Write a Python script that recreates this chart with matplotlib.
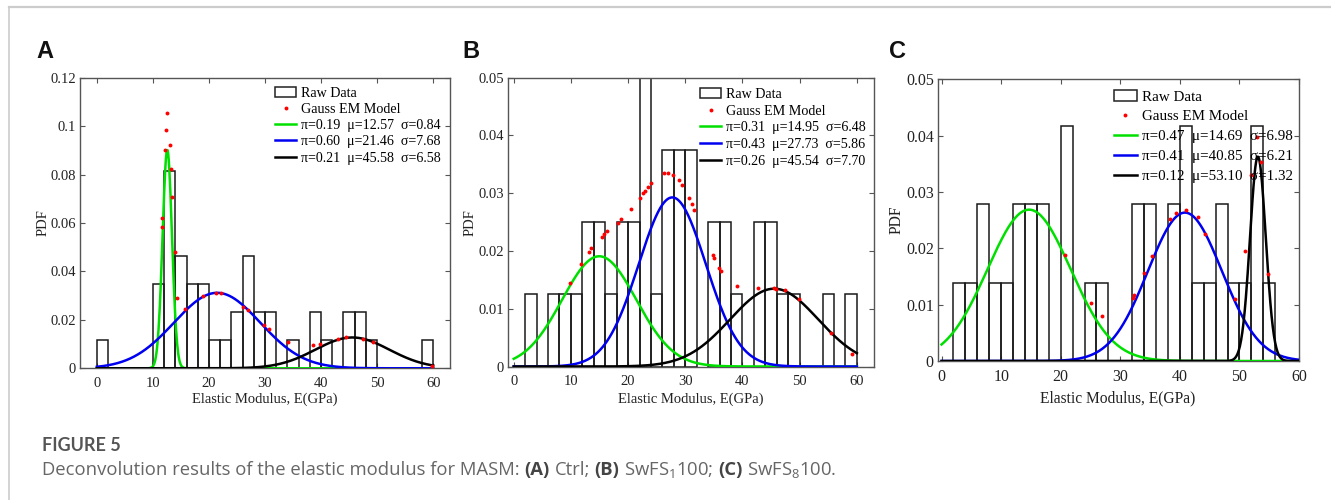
import numpy as np
import matplotlib
matplotlib.use('Agg')
import matplotlib.pyplot as plt
from matplotlib.patches import Rectangle
from matplotlib.lines import Line2D
from matplotlib.font_manager import FontProperties

plt.rcParams['mathtext.fontset'] = 'custom'
plt.rcParams['mathtext.rm'] = 'Open Sans'
plt.rcParams['mathtext.it'] = 'Open Sans:italic'
plt.rcParams['mathtext.bf'] = 'Open Sans:bold'
plt.rcParams['font.family'] = ['Liberation Serif', 'DejaVu Serif']

# ---------------- data ----------------
bin_width = 2
x_ticks = [0, 10, 20, 30, 40, 50, 60]

# Panel A (Ctrl)
A_bin_left = [0, 10, 12, 14, 16, 18, 20, 22, 24, 26, 28, 30, 34, 38, 40, 44, 46, 48, 58]
A_pdf = [0.0116, 0.0349, 0.0814, 0.0465, 0.0349, 0.0349, 0.0116, 0.0116, 0.0233, 0.0465,
         0.0233, 0.0233, 0.0116, 0.0233, 0.0116, 0.0233, 0.0233, 0.0116, 0.0116]
A_pi = [0.19, 0.60, 0.21]
A_mu = [12.57, 21.46, 45.58]
A_sigma = [0.84, 7.68, 6.58]
A_em_x = [12.50, 12.26, 13.10, 12.08, 13.27, 13.45, 11.60, 11.55, 13.87, 14.35, 15.80,
          18.90, 21.30, 22.20, 26.10, 26.96, 29.80, 30.70, 34.10, 38.60, 39.85, 43.00,
          44.50, 47.45, 49.20, 59.80]
A_em_y = [0.1055, 0.0985, 0.0923, 0.0903, 0.0825, 0.0708, 0.0620, 0.0583, 0.0480, 0.0292,
          0.0244, 0.0297, 0.0313, 0.0313, 0.0255, 0.0241, 0.0179, 0.0161, 0.0107, 0.0095,
          0.0101, 0.0121, 0.0128, 0.0122, 0.0109, 0.0011]
A_yticks = [0, 0.02, 0.04, 0.06, 0.08, 0.1, 0.12]
A_yticklabels = ['0', '0.02', '0.04', '0.06', '0.08', '0.1', '0.12']

# Panel B (SwFS1100)
B_bin_left = [2, 6, 8, 10, 12, 14, 16, 18, 20, 22, 24, 26, 28, 30, 34, 36, 38, 42, 44, 46, 48, 54, 58]
B_pdf = [0.0125, 0.0125, 0.0125, 0.0125, 0.025, 0.025, 0.0125, 0.025, 0.025, 0.05, 0.0125,
         0.0375, 0.0375, 0.0375, 0.025, 0.025, 0.0125, 0.025, 0.025, 0.0125, 0.0125, 0.0125, 0.0125]
B_pi = [0.31, 0.43, 0.26]
B_mu = [14.95, 27.73, 45.54]
B_sigma = [6.48, 5.86, 7.70]
B_em_x = [9.9, 11.7, 13.1, 13.55, 15.4, 15.8, 16.3, 18.3, 18.7, 20.5, 22.0, 22.6, 23.0, 23.4,
          24.0, 26.3, 26.9, 27.8, 28.9, 29.5, 30.65, 31.2, 31.6, 34.8, 35.0, 35.9, 36.3, 39.1,
          42.8, 45.6, 45.9, 47.4, 49.9, 55.5, 59.2]
B_em_y = [0.0145, 0.0177, 0.0199, 0.0205, 0.0225, 0.0230, 0.0234, 0.0249, 0.0255, 0.0273,
          0.0291, 0.0300, 0.0304, 0.0310, 0.0318, 0.0335, 0.0335, 0.0332, 0.0323, 0.0315,
          0.0291, 0.0281, 0.0271, 0.0193, 0.0187, 0.0170, 0.0165, 0.0139, 0.0136, 0.0136,
          0.0135, 0.0132, 0.0116, 0.0058, 0.0022]
BC_yticks = [0, 0.01, 0.02, 0.03, 0.04, 0.05]
BC_yticklabels = ['0', '0.01', '0.02', '0.03', '0.04', '0.05']

# Panel C (SwFS8100)
C_bin_left = [2, 4, 6, 8, 10, 12, 14, 16, 20, 24, 26, 32, 34, 38, 40, 42, 44, 46, 48, 50, 52, 54]
C_pdf = [0.0139, 0.0139, 0.0278, 0.0139, 0.0139, 0.0278, 0.0278, 0.0278, 0.0417, 0.0139, 0.0139,
         0.0278, 0.0278, 0.0278, 0.0417, 0.0139, 0.0139, 0.0278, 0.0139, 0.0139, 0.0417, 0.0139]
C_pi = [0.47, 0.41, 0.12]
C_mu = [14.69, 40.85, 53.10]
C_sigma = [6.98, 6.21, 1.32]
C_em_x = [20.8, 25.0, 26.9, 32.1, 32.3, 34.0, 35.3, 38.4, 39.4, 41.0, 43.0, 44.3, 49.3,
          51.0, 52.0, 53.0, 53.6, 54.8]
C_em_y = [0.0188, 0.0103, 0.0079, 0.0112, 0.0117, 0.0157, 0.0186, 0.0252, 0.0263, 0.0268,
          0.0256, 0.0225, 0.0110, 0.0196, 0.0330, 0.0397, 0.0353, 0.0154]

comp_colors = ['#00e000', '#0000f0', '#000000']

# ---------------- layout helpers ----------------
W, H = 1331, 500
fig = plt.figure(figsize=(W / 100, H / 100), dpi=100)


def fx(px):
    return px / W


def fy(py):
    return 1 - py / H


def make_axes(left, right, top, bottom):
    return fig.add_axes([fx(left), fy(bottom), (right - left) / W, (bottom - top) / H])


def gauss(x, p, m, s):
    return p / (s * np.sqrt(2 * np.pi)) * np.exp(-(x - m) ** 2 / (2 * s ** 2))


def panel(ax, bin_left, pdf, pis, mus, sigmas, em_x, em_y, xlim, ylim, yticks, yticklabels,
          tick_fs, leg_xy, leg_fs, leg_spacing):
    ax.bar(bin_left, pdf, width=bin_width, align='edge', fill=False, edgecolor='#1a1a1a',
           linewidth=1.1, zorder=2)
    xs = np.linspace(0, 60, 600)
    for p, m, s, c in zip(pis, mus, sigmas, comp_colors):
        ax.plot(xs, gauss(xs, p, m, s), color=c, lw=1.8, zorder=3)
    ax.plot(em_x, em_y, ls='none', marker='o', ms=2.8, color='red', mec='none', zorder=4)
    ax.set_xlim(*xlim)
    ax.set_ylim(*ylim)
    ax.set_xticks(x_ticks)
    ax.set_xticklabels([str(t) for t in x_ticks])
    ax.set_yticks(yticks)
    ax.set_yticklabels(yticklabels)
    ax.tick_params(direction='in', top=True, right=True, length=3.5, width=0.8,
                   color='#555555', labelsize=tick_fs, labelcolor='#222222')
    ax.tick_params(axis='x', pad=6)
    ax.tick_params(axis='y', pad=3)
    for sp in ax.spines.values():
        sp.set_color('#555555')
        sp.set_linewidth(1.0)
    handles = [Rectangle((0, 0), 1, 1, facecolor='white', edgecolor='#222222', lw=1.1),
               Line2D([], [], ls='none', marker='o', ms=2.8, color='red', mec='none')]
    labels = ['Raw Data', 'Gauss EM Model']
    for p, m, s, c in zip(pis, mus, sigmas, comp_colors):
        handles.append(Line2D([], [], color=c, lw=1.8))
        labels.append('\u03c0=%.2f  \u03bc=%.2f  \u03c3=%.2f' % (p, m, s))
    ax.legend(handles, labels, loc='upper left', bbox_to_anchor=(fx(leg_xy[0]), fy(leg_xy[1])),
              bbox_transform=fig.transFigure, frameon=False, borderpad=0, borderaxespad=0,
              handlelength=1.5, handleheight=0.7, handletextpad=0.35, labelspacing=leg_spacing,
              prop=FontProperties(family='Liberation Serif', size=leg_fs))


axA = make_axes(80, 450, 77.7, 368.3)
panel(axA, A_bin_left, A_pdf, A_pi, A_mu, A_sigma, A_em_x, A_em_y, (-3, 63), (0, 0.12),
      A_yticks, A_yticklabels, 10.5, (275, 86.7), 10.1, 0.23)

axB = make_axes(508, 874, 77.7, 366.5)
panel(axB, B_bin_left, B_pdf, B_pi, B_mu, B_sigma, B_em_x, B_em_y, (-1, 63), (0, 0.05),
      BC_yticks, BC_yticklabels, 10.5, (700, 87.8), 10.1, 0.27)

axC = make_axes(938, 1299, 79.3, 361)
panel(axC, C_bin_left, C_pdf, C_pi, C_mu, C_sigma, C_em_x, C_em_y, (-0.6, 60), (0, 0.05),
      BC_yticks, BC_yticklabels, 11.5, (1114, 90.2), 10.8, 0.42)

# axis labels
for cx, cy, fs in [(265, 399, 10.5), (691, 399, 10.5), (1118, 398, 11.2)]:
    fig.text(fx(cx), fy(cy), 'Elastic Modulus, E(GPa)', ha='center', va='center',
             fontsize=fs, color='#222222', family='Liberation Serif')
for cx, cy, fs in [(42.7, 223, 10.5), (470, 222.5, 10.5), (896.7, 220, 11.2)]:
    fig.text(fx(cx), fy(cy), 'PDF', ha='center', va='center', rotation=90,
             fontsize=fs, color='#222222', family='Liberation Serif')

# panel letters
for cx, txt in [(45, 'A'), (470.5, 'B'), (897.5, 'C')]:
    fig.text(fx(cx), fy(52), txt, ha='center', va='center', fontsize=17, fontweight='bold',
             color='#111111', family='Liberation Sans')

# page frame lines
fig.add_artist(Line2D([fx(9), fx(9)], [fy(7), fy(500)], color='#cccccc', lw=1.2))
fig.add_artist(Line2D([fx(9), fx(1331)], [fy(7), fy(7)], color='#cccccc', lw=1.6))

# caption
fig.text(fx(42), fy(445.5), 'FIGURE 5', ha='left', va='center', fontsize=13,
         fontweight='bold', color='#555555', family='Lato')

renderer = fig.canvas.get_renderer()
pieces = [('Deconvolution results of the elastic modulus for MASM:', 'normal'),
          ('(A)', 'bold'), ('Ctrl;', 'normal'), ('(B)', 'bold'), ('SwFS$_1$100;', 'normal'),
          ('(C)', 'bold'), ('SwFS$_8$100.', 'normal')]
cap_fs = 13.3
cap_family = 'Open Sans'
probe1 = fig.text(0, 0, 'a a', fontsize=cap_fs, family=cap_family)
probe2 = fig.text(0, 0, 'aa', fontsize=cap_fs, family=cap_family)
space_px = probe1.get_window_extent(renderer).width - probe2.get_window_extent(renderer).width
probe1.remove()
probe2.remove()
xpos = 42.0
for txt, wt in pieces:
    t = fig.text(fx(xpos), fy(475), txt, ha='left', va='baseline', fontsize=cap_fs,
                 fontweight=wt, color='#444444' if wt == 'bold' else '#666666', family=cap_family)
    xpos += t.get_window_extent(renderer).width + space_px

fig.savefig('out.png', dpi=100)
